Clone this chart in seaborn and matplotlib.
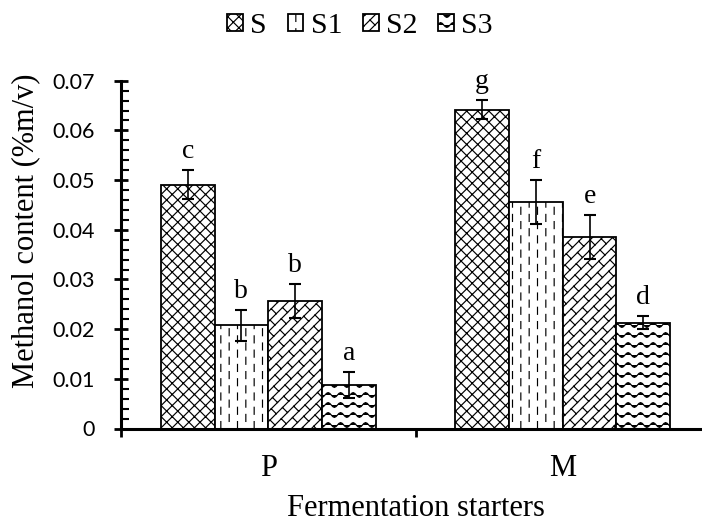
import numpy as np
import pandas as pd
import matplotlib
matplotlib.use("Agg")
import matplotlib.pyplot as plt
import seaborn as sns
from matplotlib import hatch as mhatch
from matplotlib.path import Path
from matplotlib.patches import Patch
from matplotlib.ticker import MultipleLocator

# ---------------- data ----------------
starters = ["P", "M"]
samples = ["S", "S1", "S2", "S3"]
means_P = [0.0491, 0.0208, 0.0257, 0.0088]
means_M = [0.0642, 0.0456, 0.0386, 0.0213]
err_P = [0.0029, 0.0031, 0.0034, 0.0026]
err_M = [0.0019, 0.0045, 0.0044, 0.0013]
letters_P = ["c", "b", "b", "a"]
letters_M = ["g", "f", "e", "d"]
ytick_values = [0.0, 0.01, 0.02, 0.03, 0.04, 0.05, 0.06, 0.07]
ytick_labels = ["0", "0.01", "0.02", "0.03", "0.04", "0.05", "0.06", "0.07"]
xlabel = "Fermentation starters"
ylabel = "Methanol content (%m/v)"

# ---------------- custom hatch patterns ----------------
class _Base(mhatch.HatchPatternBase):
    char = None

    def __init__(self, hatch, density):
        self.on = hatch.count(self.char) > 0
        self.segs = self.build() if self.on else []
        self.num_vertices = sum(len(s) for s in self.segs)

    def set_vertices_and_codes(self, vertices, codes):
        i = 0
        for s in self.segs:
            n = len(s)
            vertices[i:i + n] = s
            codes[i] = Path.MOVETO
            codes[i + 1:i + n] = Path.LINETO
            i += n


class CrossHatch(_Base):
    char = "x"

    def build(self):
        n = 9
        segs = []
        for k in range(-n, n + 1):
            segs.append(np.array([[0, k / n], [1, 1 + k / n]]))
        for k in range(0, 2 * n + 1):
            segs.append(np.array([[0, k / n], [1, k / n - 1]]))
        return segs


class DashHatch(_Base):
    char = "|"

    def build(self):
        ncol, per, dash = 12, 1 / 7, 0.07
        segs = []
        for i in range(ncol):
            x = (i + 0.5) / ncol
            off = (i % 2) * per / 2
            for j in range(-1, 9):
                y0 = off + j * per
                segs.append(np.array([[x, y0], [x, y0 + dash]]))
        return segs


class BrickHatch(_Base):
    char = "/"

    def build(self):
        n, m0 = 10, 4
        r2 = np.sqrt(2)
        d = 1 / (n * r2)
        L = 1 / (r2 * m0)
        segs = []
        for k in range(-n, n + 1):
            segs.append(np.array([[0, k / n], [1, 1 + k / n]]))
        for k in range(-n - 1, n + 1):
            for m in range(-2, 2 * m0 + 3):
                u = m * L + (k % 2) * L / 2
                v1, v2 = k * d, (k + 1) * d
                p1 = [(u - v1) / r2, (u + v1) / r2]
                p2 = [(u - v2) / r2, (u + v2) / r2]
                segs.append(np.array([p1, p2]))
        return segs


class WaveHatch(_Base):
    char = "-"

    def build(self):
        rows, waves, amp = 10, 8, 0.024
        xs = np.linspace(0, 1, waves * 8 + 1)
        segs = []
        for r in range(rows):
            y = (r + 0.5) / rows + amp * np.sin(2 * np.pi * waves * xs)
            segs.append(np.column_stack([xs, y]))
        return segs


mhatch._hatch_types = [CrossHatch, DashHatch, BrickHatch, WaveHatch]
hatches = ["x", "|", "/", "-"]

# ---------------- style ----------------
plt.rcParams["hatch.linewidth"] = 0.85
plt.rcParams["hatch.color"] = "black"
serif = ["Liberation Serif", "DejaVu Serif"]
plt.rcParams["font.family"] = serif

fig = plt.figure(figsize=(7.02, 5.22), dpi=100)
ax = fig.add_axes([121 / 702, 93.5 / 522, 589 / 702, 347.8 / 522])

df = pd.DataFrame({
    "starter": np.repeat(starters, len(samples)),
    "sample": samples * len(starters),
    "value": means_P + means_M,
})
errs = {("P", s): e for s, e in zip(samples, err_P)}
errs.update({("M", s): e for s, e in zip(samples, err_M)})
lets = {("P", s): l for s, l in zip(samples, letters_P)}
lets.update({("M", s): l for s, l in zip(samples, letters_M)})

group_w = 0.73
sns.barplot(data=df, x="starter", y="value", hue="sample", order=starters,
            hue_order=samples, palette=["white"] * 4, saturation=1,
            edgecolor="black", linewidth=1.3, width=group_w, errorbar=None,
            legend=False, ax=ax)

bw = group_w / len(samples)
for bar in ax.patches:
    xc = bar.get_x() + bar.get_width() / 2
    cat = int(round(xc))
    hi = int(round((xc - cat + group_w / 2 - bw / 2) / bw))
    hi = max(0, min(len(samples) - 1, hi))
    bar.set_hatch(hatches[hi])
    key = (starters[cat], samples[hi])
    h = bar.get_height()
    e = errs[key]
    ax.errorbar(xc, h, yerr=e, fmt="none", ecolor="black", elinewidth=1.2,
                capsize=4.2, capthick=1.5, zorder=5)
    ax.annotate(lets[key], (xc, h + e), xytext=(0, 8.5),
                textcoords="offset points", ha="center", va="baseline",
                fontsize=20, family=serif)

# axes
ax.set_ylim(0, 0.07)
ax.set_xlim(-0.5, 1.5)
for s in ["top", "right"]:
    ax.spines[s].set_visible(False)
ax.spines["left"].set_linewidth(2.2)
ax.spines["bottom"].set_linewidth(2.2)

ax.set_yticks(ytick_values)
ax.set_yticklabels(ytick_labels, fontsize=15.5, family=["Lato", "DejaVu Sans"])
ax.yaxis.set_minor_locator(MultipleLocator(0.002))
ax.tick_params(axis="y", which="major", direction="inout", length=10.3,
               width=2, pad=14)
ax.tick_params(axis="y", which="minor", direction="in", length=6, width=1.5)

ax.set_xticks([-0.5, 0.5, 1.5])
ax.set_xticklabels(["", "", ""])
ax.set_xticks([0, 1], minor=True)
ax.set_xticklabels(starters, minor=True, fontsize=22, family=serif)
ax.tick_params(axis="x", which="major", direction="out", length=6, width=2)
ax.tick_params(axis="x", which="minor", length=0, pad=18)

ax.set_xlabel(xlabel, fontsize=22, family=serif)
ax.set_ylabel(ylabel, fontsize=22, family=serif)
ax.xaxis.set_label_coords((415.5 - 121) / 589, (428.5 - 494) / 347.8)
ax.yaxis.set_label_coords((26 - 121) / 589, (428.5 - 231) / 347.8)
ax.yaxis.label.set_va("center")

handles = [Patch(facecolor="white", edgecolor="black", linewidth=1.3, hatch=h)
           for h in hatches]
fig.legend(handles, samples, loc="center", bbox_to_anchor=(360 / 702, 1 - 26 / 522),
           ncol=4, frameon=False, prop={"family": serif, "size": 21.5},
           handlelength=0.52, handleheight=0.52, handletextpad=0.25,
           columnspacing=0.7, borderpad=0)

fig.savefig("out.png", dpi=100)
